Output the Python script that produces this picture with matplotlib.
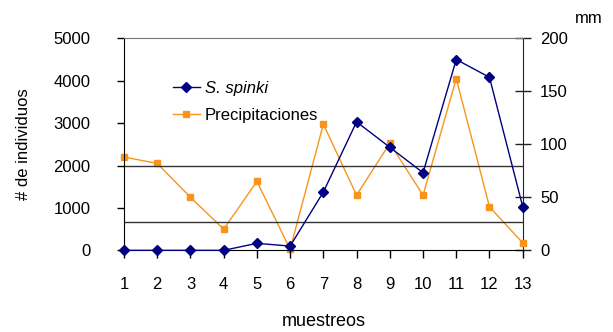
import matplotlib
matplotlib.use("Agg")
import matplotlib.pyplot as plt

plt.rcParams['font.family'] = ['Liberation Sans', 'DejaVu Sans']

muestreos = list(range(1, 14))
spinki = [0, 0, 0, 0, 165, 100, 1375, 3030, 2430, 1830, 4500, 4080, 1030]
precip = [88, 82, 50, 20, 65, 1, 119, 52, 101, 52, 162, 41, 7]
lineas_ref = [2000, 675]

azul = '#000080'
naranja = '#f7941d'

fig = plt.figure(figsize=(6.13, 3.32), dpi=100)
ax = fig.add_axes([0.2023, 0.246, 0.6504, 0.6386])
ax2 = ax.twinx()

for y in lineas_ref:
    ax.axhline(y, color='#333333', lw=1)

ax.plot(muestreos, spinki, color=azul, lw=1, marker='D', ms=5,
        label='S. spinki', clip_on=False, zorder=4)
ax2.plot(muestreos, precip, color=naranja, lw=1, marker='s', ms=5,
         label='Precipitaciones', clip_on=False, zorder=3)
ax.set_zorder(ax2.get_zorder() + 1)
ax.patch.set_visible(False)

ax.set_xlim(1, 13)
ax.set_ylim(0, 5000)
ax2.set_ylim(0, 200)
ax.set_xticks(muestreos)
ax.set_yticks(range(0, 5001, 1000))
ax2.set_yticks(range(0, 201, 50))

ax.tick_params(axis='both', direction='out', length=5, labelsize=12,
               colors='black', width=1)
ax.tick_params(axis='y', pad=19)
ax.tick_params(axis='x', length=6, pad=13)
ax2.tick_params(axis='y', direction='inout', length=11, labelsize=12,
                width=1, pad=7, color='#222222')

ax.spines['top'].set_color('#777777')
ax2.spines['top'].set_visible(False)
ax2.spines['left'].set_visible(False)
ax2.spines['bottom'].set_visible(False)
ax.spines['right'].set_visible(False)
ax2.spines['right'].set_color('#222222')

ax.set_xlabel('muestreos', fontsize=13, labelpad=15)
ax.set_ylabel('# de individuos', fontsize=12, labelpad=16)
fig.text(0.961, 0.945, 'mm', fontsize=12, ha='center', va='center')

h1, l1 = ax.get_legend_handles_labels()
h2, l2 = ax2.get_legend_handles_labels()
leg = ax.legend(h1 + h2, l1 + l2, loc='upper left',
                bbox_to_anchor=(173 / 613, 1 - 81 / 332),
                bbox_transform=fig.transFigure, frameon=False, fontsize=12,
                handlelength=1.6, handletextpad=0.3, labelspacing=0.7,
                numpoints=1, borderpad=0, borderaxespad=0)
leg.get_texts()[0].set_style('italic')

fig.savefig('out.png', dpi=100)
